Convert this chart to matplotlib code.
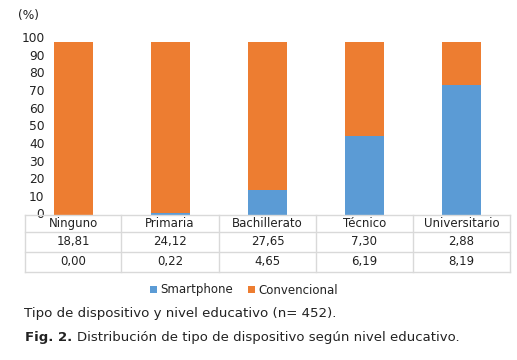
import matplotlib.pyplot as plt
from matplotlib.lines import Line2D
from matplotlib.transforms import ScaledTranslation

# data
categorias = ['Ninguno', 'Primaria', 'Bachillerato', 'Técnico', 'Universitario']
smartphone = [0.0, 1.0, 14.0, 45.0, 73.5]
convencional = [98.3, 97.3, 84.3, 53.3, 24.8]
fila_1 = [18.81, 24.12, 27.65, 7.30, 2.88]
fila_2 = [0.00, 0.22, 4.65, 6.19, 8.19]

azul = '#5B9BD5'
naranja = '#ED7D31'
gris = '#D9D9D9'
W, H = 517, 360

fig = plt.figure(figsize=(W / 100, H / 100), dpi=100)

def fx(px):
    return px / W

def fy(py):
    return 1 - py / H

ax = fig.add_axes([fx(25), fy(215), fx(510) - fx(25), fy(38.5) - fy(215)])
x = range(len(categorias))
ax.bar(x, smartphone, width=0.4, color=azul, label='Smartphone')
ax.bar(x, convencional, width=0.4, bottom=smartphone, color=naranja, label='Convencional')
ax.set_xlim(-0.5, len(categorias) - 0.5)
ax.set_ylim(0, 100)
ax.set_yticks(range(0, 101, 10))
ax.tick_params(axis='y', length=0, labelsize=8.8, pad=-14, colors='#222222')
ax.set_xticks([])
for s in ax.spines.values():
    s.set_visible(False)
# labels sit slightly higher than the values, like in the original
desp = ScaledTranslation(0, 1.5 / 100, fig.dpi_scale_trans)
for lab in ax.get_yticklabels():
    lab.set_transform(lab.get_transform() + desp)

# data table under the axis
bordes_x = [25, 121, 219, 316, 413, 510]
bordes_y = [215, 232, 252, 272]
for yy in bordes_y:
    fig.add_artist(Line2D([fx(25), fx(510)], [fy(yy), fy(yy)], color=gris, lw=1))
for xx in bordes_x:
    fig.add_artist(Line2D([fx(xx), fx(xx)], [fy(215), fy(272)], color=gris, lw=1))

def fmt(v):
    return '{:.2f}'.format(v).replace('.', ',')

for i, cat in enumerate(categorias):
    cx = (bordes_x[i] + bordes_x[i + 1]) / 2
    fig.text(fx(cx), fy(223.5), cat, ha='center', va='center', fontsize=8.5, color='#222222')
    fig.text(fx(cx), fy(242), fmt(fila_1[i]), ha='center', va='center', fontsize=8.5, color='#222222')
    fig.text(fx(cx), fy(262), fmt(fila_2[i]), ha='center', va='center', fontsize=8.5, color='#222222')

fig.text(fx(18), fy(15), '(%)', ha='left', va='center', fontsize=8.8, color='#222222')

fig.legend(loc='center', bbox_to_anchor=(fx(244), fy(290)), ncol=2, frameon=False,
           fontsize=8.5, handlelength=0.6, handleheight=0.6, handletextpad=0.3,
           columnspacing=1.2, labelcolor='#222222')

fig.text(fx(24), fy(313), 'Tipo de dispositivo y nivel educativo (n= 452).',
         ha='left', va='center', fontsize=9.6, color='#222222')
fig.text(fx(25), fy(337), 'Fig. 2.', ha='left', va='center', fontsize=9.5,
         fontweight='bold', color='#222222')
fig.text(fx(77), fy(337), 'Distribución de tipo de dispositivo según nivel educativo.',
         ha='left', va='center', fontsize=9.5, color='#222222')

fig.savefig('out.png', dpi=100)
